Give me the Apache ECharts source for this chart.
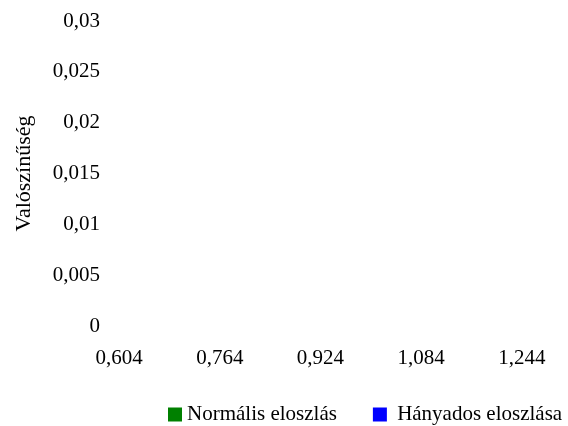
<!DOCTYPE html>
<html>
<head>
<meta charset="utf-8">
<script src="https://cdn.jsdelivr.net/npm/echarts@6/dist/echarts.min.js"></script>
<style>
  html, body { margin: 0; padding: 0; background: #fff; }
  #chart { width: 568px; height: 426px; }
</style>
</head>
<body>
<div id="chart"></div>
<script>
// bin centres of the histogram (label shown every 5th bin)
const categories = [
    "0.604", "0.636", "0.668", "0.700", "0.732",
    "0.764", "0.796", "0.828", "0.860", "0.892",
    "0.924", "0.956", "0.988", "1.020", "1.052",
    "1.084", "1.116", "1.148", "1.180", "1.212",
    "1.244", "1.276"
]
// the reference shows no visible bars, so both series are empty
const normalValues = []
const ratioValues = []
const yTicks = { min: 0, max: 0.03, interval: 0.005 }

const font = "'Liberation Serif', 'Times New Roman', serif"
const comma = (v) => String(Number(Number(v).toFixed(3))).replace(".", ",")

const chart = echarts.init(document.getElementById("chart"))
const option = {
    animation: false,
    textStyle: { fontFamily: font, color: "#000" },
    grid: {
        left: 109,
        right: 16,
        top: 21,
        bottom: 100
    },
    legend: {
        left: 163,
        top: 399,
        width: 405,
        icon: "rect",
        itemWidth: 14,
        itemHeight: 14,
        itemGap: 36,
        textStyle: { fontFamily: font, fontSize: 21, color: "#000" },
        formatter: (name) => name === "Hányados eloszlása" ? " " + name : name,
        data: ["Normális eloszlás", "Hányados eloszlása"]
    },
    xAxis: {
        type: "category",
        data: categories,
        axisLine: { show: false },
        axisTick: { show: false },
        splitLine: { show: false },
        axisLabel: {
            interval: 4,
            margin: 22,
            fontFamily: font,
            fontSize: 21,
            color: "#000",
            formatter: comma
        }
    },
    yAxis: {
        type: "value",
        min: yTicks.min,
        max: yTicks.max,
        interval: yTicks.interval,
        name: "Valószínűség",
        nameLocation: "middle",
        nameGap: 74,
        nameTextStyle: { fontFamily: font, fontSize: 22, color: "#000" },
        axisLine: { show: false },
        axisTick: { show: false },
        splitLine: { show: false },
        axisLabel: {
            margin: 9,
            fontFamily: font,
            fontSize: 21,
            color: "#000",
            formatter: comma
        }
    },
    series: [
        {
            name: "Normális eloszlás",
            type: "bar",
            itemStyle: { color: "#008000" },
            data: normalValues
        },
        {
            name: "Hányados eloszlása",
            type: "bar",
            itemStyle: { color: "#0000ff" },
            data: ratioValues
        }
    ]
}
chart.setOption(option)
</script>
</body>
</html>
